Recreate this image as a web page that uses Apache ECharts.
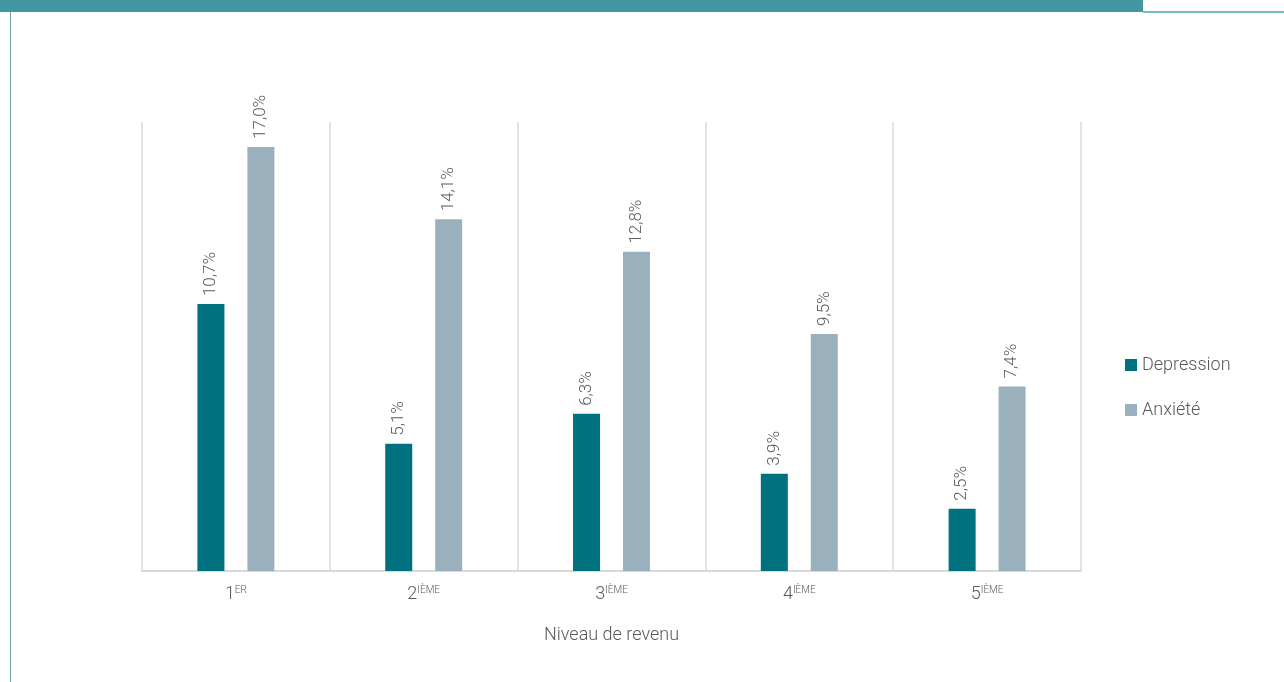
<!DOCTYPE html>
<html><head><meta charset="utf-8">
<script src="https://cdn.jsdelivr.net/npm/echarts@6/dist/echarts.min.js"></script>
<style>html,body{margin:0;padding:0;background:#fff}#c{width:1284px;height:682px}</style>
</head><body><div id="c"></div>
<script>
const categories = ['1', '2', '3', '4', '5'];
const suffixes = ['ER', 'IÈME', 'IÈME', 'IÈME', 'IÈME'];
const depression = [10.7, 5.1, 6.3, 3.9, 2.5];
const anxiete = [17.0, 14.1, 12.8, 9.5, 7.4];
const seriesNames = ['Depression', 'Anxiété'];
const xAxisTitle = 'Niveau de revenu';

const FONT = 'Roboto, sans-serif';
const chart = echarts.init(document.getElementById('c'));
const lbl = {
  show: true, position: 'top', rotate: 90, align: 'left', verticalAlign: 'middle',
  distance: 8, color: '#595959', fontFamily: FONT, fontWeight: 300, fontSize: 17,
  formatter: p => p.value.toFixed(1).replace('.', ',') + '%'
};
chart.setOption({
  animation: false,
  textStyle: { fontFamily: FONT },
  grid: { left: 142, right: 203, top: 122, bottom: 111, containLabel: false },
  legend: {
    orient: 'vertical', left: 1120, top: 351, itemWidth: 12, itemHeight: 12, itemGap: 27,
    icon: 'rect',
    textStyle: { color: '#595959', fontFamily: FONT, fontWeight: 300, fontSize: 18 },
    data: seriesNames
  },
  xAxis: {
    type: 'category', data: categories,
    name: xAxisTitle, nameLocation: 'middle', nameGap: 55,
    nameTextStyle: { color: '#595959', fontFamily: FONT, fontWeight: 300, fontSize: 18 },
    axisLine: { show: true, lineStyle: { color: '#d9d9d9', width: 2 } },
    axisTick: { show: false },
    splitLine: { show: true, lineStyle: { color: '#d9d9d9', width: 1.5 } },
    axisLabel: {
      margin: 14, interval: 0,
      formatter: (v, i) => '{n|' + v + '}{s|' + suffixes[i] + '}',
      rich: {
        n: { color: '#595959', fontFamily: FONT, fontWeight: 300, fontSize: 18, verticalAlign: 'bottom' },
        s: { color: '#595959', fontFamily: FONT, fontWeight: 300, fontSize: 10, verticalAlign: 'top', padding: [0, 0, 8, 0] }
      }
    }
  },
  yAxis: { type: 'value', min: 0, max: 18, show: false, splitLine: { show: false } },
  series: [
    { name: seriesNames[0], type: 'bar', data: depression, barWidth: 27, barGap: '85%',
      itemStyle: { color: '#00717F' }, label: lbl },
    { name: seriesNames[1], type: 'bar', data: anxiete, barWidth: 27,
      itemStyle: { color: '#9AB0BC' }, label: lbl }
  ],
  graphic: [
    { type: 'rect', shape: { x: 0, y: 0, width: 1143, height: 12 }, style: { fill: '#4297A1' } },
    { type: 'line', shape: { x1: 1143, y1: 12, x2: 1284, y2: 12 }, style: { stroke: '#4AA3AB', lineWidth: 1.5 } },
    { type: 'line', shape: { x1: 10.5, y1: 12, x2: 10.5, y2: 682 }, style: { stroke: '#6E9EA4', lineWidth: 1 } }
  ]
});
</script></body></html>
